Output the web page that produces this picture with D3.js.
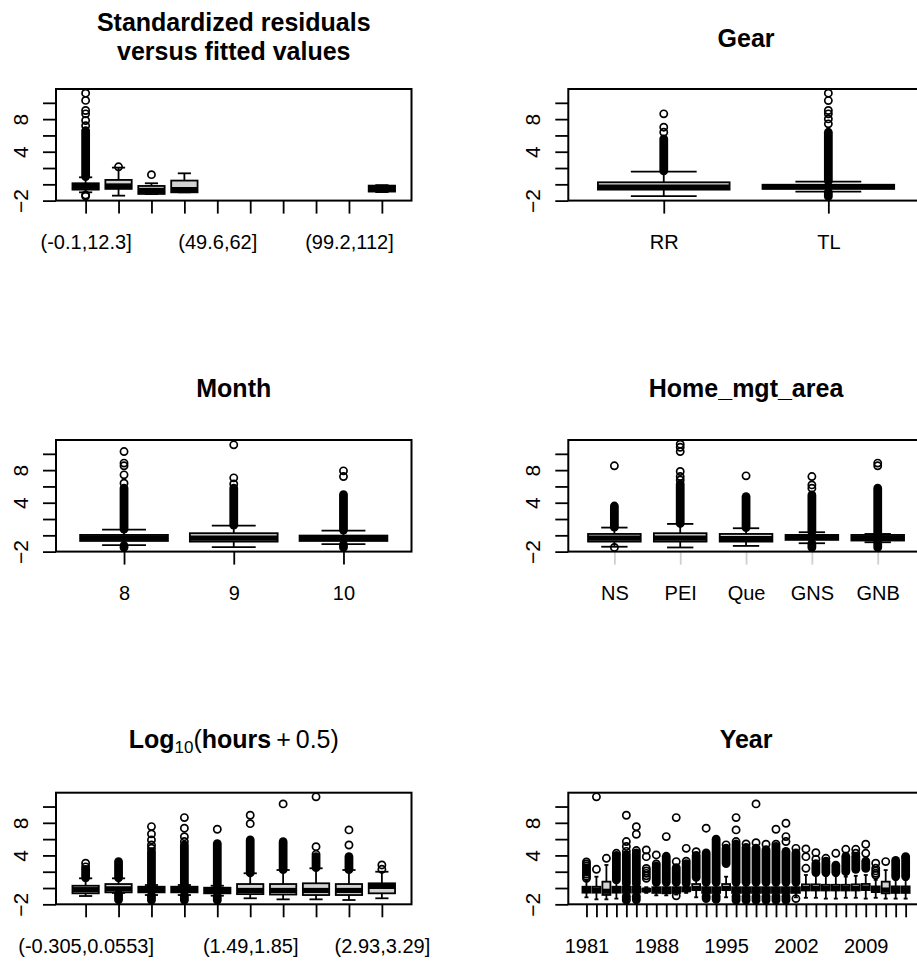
<!DOCTYPE html>
<html>
<head>
<meta charset="utf-8">
<script src="https://cdn.jsdelivr.net/npm/d3@7"></script>
<style>
  body { margin: 0; background: #fff; }
  svg { display: block; font-family: "Liberation Sans", Arial, sans-serif; }
</style>
</head>
<body>
<svg width="917" height="962"></svg>
<script>
// residual axis, shared by all six panels
const yTicks = [-2, 0, 2, 4, 6, 8, 10]
const yRange = [-1.997, 11.697]

// box stats are [lower whisker, q1, median, q3, upper whisker]
// run = stretches where outliers pile up into a solid column, out = single outliers
const fittedBins = ['(-0.1,12.3]', '(12.3,24.7]', '(24.7,37.2]', '(37.2,49.6]', '(49.6,62]',
  '(62,74.4]', '(74.4,86.8]', '(86.8,99.2]', '(99.2,112]', '(112,124]']
const fittedBox = [[-0.98, -0.65, -0.25, 0.13, 0.86], [-1.39, -0.56, -0.2, 0.54, 2.05],
  [-1.2, -1.18, -0.75, -0.2, 0.13], [-0.98, -0.98, -0.65, 0.46, 1.35],
  null, null, null, null, null, [-0.95, -0.89, -0.5, -0.16, -0.1]]
const fittedRun = [[[0.95, 6.6]], [], [], [], [], [], [], [], [], []]
const fittedOut = [[-1.3, -1.45, 7.2, 7.83, 8.65, 9.06, 10.3, 11.19], [2.15], [1.19], [], [], [], [], [], [], []]

const gearCats = ['RR', 'TL']
const gearBox = [[-1.45, -0.65, -0.35, 0.25, 1.56], [-0.89, -0.56, -0.3, -0.05, 0.33]]
const gearRun = [[[1.65, 5.58]], [[0.4, 6.39], [-1.49, -0.95]]]
const gearOut = [[6.39, 7.01, 8.65], [7.42, 8.03, 8.65, 9.06, 10.28, 11.19]]

const monthCats = ['8', '9', '10']
const monthBox = [[-1.21, -0.69, -0.3, 0.05, 0.7], [-1.45, -0.77, -0.35, 0.26, 1.19],
  [-1.09, -0.69, -0.35, -0.03, 0.58]]
const monthRun = [[[0.75, 5.8], [-1.49, -1.25]], [[1.25, 5.8]], [[0.65, 5.0], [-1.49, -1.15]]]
const monthOut = [[6.4, 7.42, 8.53, 8.86, 10.28], [6.3, 7.05, 11.1], [7.21, 7.91]]

const areaCats = ['NS', 'PEI', 'Que', 'GNS', 'GNB']
const areaBox = [[-1.4, -0.77, -0.35, 0.17, 0.95], [-1.49, -0.77, -0.35, 0.26, 1.4],
  [-1.3, -0.77, -0.4, 0.17, 0.87], [-0.97, -0.56, -0.25, 0.05, 0.38],
  [-0.85, -0.64, -0.3, 0.05, 0.17]]
const areaRun = [[[1.0, 3.6]], [[1.45, 6.3]], [[0.95, 4.76]], [[0.45, 4.96], [-1.49, -1.0]],
  [[0.25, 5.78], [-1.49, -0.9]]]
const areaOut = [[-1.49, 8.53], [6.8, 7.21, 7.83, 10.28, 10.8, 11.19], [7.3], [5.79, 6.19, 7.21], [8.53, 8.86]]

const hourBins = ['(-0.305,0.0553]', '(0.0553,0.414]', '(0.414,0.773]', '(0.773,1.13]', '(1.13,1.49]',
  '(1.49,1.85]', '(1.85,2.21]', '(2.21,2.57]', '(2.57,2.93]', '(2.93,3.29]']
const hourBox = [[-0.98, -0.65, -0.2, 0.28, 1.19], [-0.6, -0.53, -0.1, 0.49, 1.19],
  [-0.86, -0.53, -0.2, 0.16, 0.37], [-0.86, -0.53, -0.2, 0.16, 0.37],
  [-0.94, -0.65, -0.3, 0.04, 0.28], [-1.26, -0.75, -0.3, 0.49, 1.81],
  [-1.39, -0.8, -0.3, 0.49, 2.21], [-1.39, -0.86, -0.3, 0.58, 2.42],
  [-1.47, -0.86, -0.3, 0.49, 2.21], [-1.26, -0.65, 0.2, 0.58, 2.0]]
const hourRun = [[[1.25, 2.3]], [[1.25, 3.24], [-1.45, -0.75]], [[0.4, 4.47], [-1.49, -0.9]],
  [[0.4, 5.28], [-1.49, -0.9]], [[0.33, 5.45], [-1.49, -1.0]], [[1.85, 5.9]], [[2.25, 5.69]],
  [[2.5, 3.85]], [[2.25, 3.85]], []]
const hourOut = [[2.6, 3.04], [], [4.88, 5.29, 5.9, 6.64, 7.54], [5.7, 6.3, 7.34, 8.64], [7.21],
  [7.9, 8.93], [10.32], [4.14, 5.08, 11.19], [5.28, 7.13], [2.3, 2.83]]

const years = ['1981', '1982', '1983', '1984', '1985', '1986', '1987', '1988', '1989', '1990',
  '1991', '1992', '1993', '1994', '1995', '1996', '1997', '1998', '1999', '2000', '2001',
  '2002', '2003', '2004', '2005', '2006', '2007', '2008', '2009', '2010', '2011', '2012', '2013']
const yearBox = [
  [-1.14, -0.57, -0.2, 0.16, 0.99], [-1.39, -0.57, -0.25, 0.16, 1.39], [-1.39, -0.85, -0.4, 0.78, 2.83],
  [-1.3, -0.57, -0.2, 0.16, 0.9], [-0.9, -0.57, -0.2, 0.16, 0.5], [-0.9, -0.57, -0.2, 0.16, 0.5],
  [-0.6, -0.4, -0.25, -0.1, 0.1], [-0.9, -0.6, -0.25, 0.1, 0.6], [-0.9, -0.65, -0.3, 0.1, 0.6],
  [-0.8, -0.6, -0.3, 0.1, 0.6], [-0.6, -0.4, -0.2, 0.1, 0.5], [-1.14, -0.24, -0.05, 0.49, 0.99],
  [-0.9, -0.6, -0.25, 0.1, 0.6], [-0.9, -0.6, -0.25, 0.1, 0.6], [-1.14, -0.24, -0.05, 0.49, 1.39],
  [-0.9, -0.6, -0.25, 0.1, 0.6], [-0.9, -0.6, -0.25, 0.1, 0.6], [-0.9, -0.6, -0.25, 0.1, 0.6],
  [-0.9, -0.6, -0.25, 0.1, 0.6], [-0.9, -0.6, -0.25, 0.1, 0.6], [-0.9, -0.6, -0.25, 0.1, 0.6],
  [-1.14, -0.6, -0.25, 0.1, 0.6], [-1.2, -0.3, -0.05, 0.45, 1.6], [-1.2, -0.3, -0.05, 0.45, 1.6],
  [-1.3, -0.3, -0.05, 0.4, 1.5], [-1.3, -0.3, -0.05, 0.4, 1.5], [-1.2, -0.3, -0.05, 0.4, 1.4],
  [-1.2, -0.3, -0.05, 0.45, 1.5], [-1.3, -0.25, 0.0, 0.5, 1.6], [-1.2, -0.5, -0.15, 0.2, 1.0],
  [-1.3, -0.65, -0.25, 0.78, 2.2], [-1.3, -0.6, -0.2, 0.2, 1.0], [-1.3, -0.6, -0.2, 0.2, 1.0]]
const yearRun = [
  [], [], [], [[1.0, 4.0]], [[0.55, 4.1], [-1.49, -1.0]], [[0.55, 4.3], [-1.45, -1.0]], [],
  [[0.7, 2.7]], [[0.7, 3.9]], [[0.7, 2.5]], [[0.6, 3.0]], [[1.3, 4.0]], [[0.7, 4.3], [-1.3, -1.0]],
  [[0.7, 6.0], [-1.4, -1.0]], [[3.0, 4.9]], [[0.7, 5.4], [-1.49, -1.0]], [[0.7, 5.0], [-1.49, -1.0]],
  [[0.7, 4.9], [-1.49, -1.0]], [[0.7, 4.7], [-1.49, -1.0]], [[0.7, 5.1], [-1.49, -1.0]],
  [[0.7, 4.5], [-1.49, -1.0]], [[0.7, 4.3]], [], [[1.9, 3.0]], [[1.9, 3.3]], [[1.9, 2.8]],
  [[2.0, 3.9]], [[2.3, 3.9]], [[2.4, 3.3]], [], [], [[1.4, 3.4]], [[1.4, 3.7]]]
const yearOut = [
  [1.2, 1.45, 1.7, 1.95, 2.2, 2.45, 2.7, 2.95, 3.2], [2.3, 11.19], [3.65], [4.26], [4.5, 5.1, 5.7, 8.93],
  [4.6, 6.6, 7.53], [1.2, 1.5, 1.8, 2.1, 2.4, 3.85, 4.67], [2.95, 4.06], [6.31], [-0.95, 3.24, 8.64],
  [3.3, 4.87], [4.46], [7.34], [], [5.3], [5.7, 7.13, 8.64], [5.4], [5.57, 10.32], [5.37], [5.37, 7.21],
  [5.7, 6.31, 7.95], [-1.3, 4.87], [2.42, 3.85, 4.8], [3.53, 4.34], [3.65], [4.26], [4.75], [4.26, 4.75],
  [4.26, 5.37], [1.6, 1.81, 2.1, 2.42, 3.04], [3.24], [], [3.85]]

const W = 355.5
const H = 111.6
const BOX_FILL = '#d3d3d3'

const panels = [
  {title: ['Standardized residuals', 'versus fitted values'], cats: fittedBins, box: fittedBox, run: fittedRun, out: fittedOut, left: 56, top: 89, titleY: [30.5, 59.5]},
  {title: ['Gear'], cats: gearCats, box: gearBox, run: gearRun, out: gearOut, left: 568.3, top: 89, titleY: [46.5]},
  {title: ['Month'], cats: monthCats, box: monthBox, run: monthRun, out: monthOut, left: 56, top: 440, titleY: [396.7]},
  {title: ['Home_mgt_area'], cats: areaCats, box: areaBox, run: areaRun, out: areaOut, left: 568.3, top: 440, titleY: [396.7], tickColor: '#cfcfcf'},
  {title: null, cats: hourBins, box: hourBox, run: hourRun, out: hourOut, left: 56, top: 792.7, titleY: [747.5]},
  {title: ['Year'], cats: years, box: yearBox, run: yearRun, out: yearOut, left: 568.3, top: 792.7, titleY: [748]}
]

const svg = d3.select('svg')

// R skips axis labels closer than about one "m" to the previous one
const probe = svg.append('text').attr('font-size', 20).text('m')
const mWidth = probe.node().getComputedTextLength()
probe.remove()

function thinLabels(texts, pos) {
  let last = -Infinity
  texts.each(function(d) {
    const w = this.getComputedTextLength()
    const c = pos(d)
    if (c - w / 2 - last >= 1.14 * mWidth) {
      last = c + w / 2
    } else {
      d3.select(this).remove()
    }
  })
}

function drawPanel(p) {
  const n = p.cats.length
  const x = d3.scalePoint()
    .domain(p.cats)
    .range([p.left, p.left + W])
    .padding(0.5 + 0.04 * n)
  const y = d3.scaleLinear()
    .domain(yRange)
    .range([p.top + H, p.top])

  const g = svg.append('g')
  const bw = x.step() * 0.8
  const R = 3.6

  const items = p.cats.map((c, i) => ({c: c, b: p.box[i], run: p.run[i], out: p.out[i]}))
    .filter(d => d.b)

  const bx = g.selectAll('.bx')
    .data(items)
    .join('g')
      .attr('class', 'bx')
      .attr('transform', d => `translate(${x(d.c)},0)`)

  bx.append('line')
    .attr('y1', d => y(d.b[4])).attr('y2', d => y(d.b[3]))
  bx.append('line')
    .attr('y1', d => y(d.b[0])).attr('y2', d => y(d.b[1]))
  bx.append('line')
    .attr('x1', -bw / 4).attr('x2', bw / 4)
    .attr('y1', d => y(d.b[4])).attr('y2', d => y(d.b[4]))
  bx.append('line')
    .attr('x1', -bw / 4).attr('x2', bw / 4)
    .attr('y1', d => y(d.b[0])).attr('y2', d => y(d.b[0]))
  bx.selectAll('line')
    .attr('stroke', '#000')
    .attr('stroke-width', 1.8)

  bx.append('rect')
    .attr('x', -bw / 2)
    .attr('width', bw)
    .attr('y', d => y(d.b[3]))
    .attr('height', d => y(d.b[1]) - y(d.b[3]))
    .attr('fill', BOX_FILL)
    .attr('stroke', '#000')
    .attr('stroke-width', 1.8)

  bx.append('line')
    .attr('x1', -bw / 2).attr('x2', bw / 2)
    .attr('y1', d => y(d.b[2])).attr('y2', d => y(d.b[2]))
    .attr('stroke', '#000')
    .attr('stroke-width', 5.2)

  // solid columns of overlapping outlier rings
  bx.selectAll('.run')
    .data(d => d.run)
    .join('rect')
      .attr('class', 'run')
      .attr('x', -R - 0.8)
      .attr('width', 2 * R + 1.6)
      .attr('y', d => y(d[1]) - R - 0.8)
      .attr('height', d => y(d[0]) - y(d[1]) + 2 * R + 1.6)
      .attr('rx', R + 0.8)
      .attr('fill', '#000')

  bx.selectAll('circle')
    .data(d => d.out)
    .join('circle')
      .attr('cy', d => y(d))
      .attr('r', R)
      .attr('fill', 'none')
      .attr('stroke', '#000')
      .attr('stroke-width', 1.7)

  // x axis
  const ax = g.append('g')
    .attr('transform', `translate(0,${p.top + H})`)
    .call(d3.axisBottom(x).tickSize(13).tickPadding(21.3))
    .attr('font-size', 20)
    .attr('font-family', null)
  ax.select('.domain').remove()
  ax.selectAll('line')
    .attr('stroke', p.tickColor || '#000')
    .attr('stroke-width', 1.8)
  ax.selectAll('text').attr('fill', '#000')
  thinLabels(ax.selectAll('text'), d => x(d))

  // y axis, labels parallel to the axis
  const ay = g.append('g')
    .attr('transform', `translate(${p.left},0)`)
    .call(d3.axisLeft(y).tickValues(yTicks).tickSize(13))
    .attr('font-size', 21)
    .attr('font-family', null)
  ay.select('.domain').remove()
  ay.selectAll('line').attr('stroke', '#000').attr('stroke-width', 1.8)
  ay.selectAll('text')
    .attr('x', 0)
    .attr('dy', null)
    .attr('fill', '#000')
    .attr('text-anchor', 'middle')
    .attr('transform', 'translate(-28.5,0) rotate(-90)')
  thinLabels(ay.selectAll('text'), d => -y(d))

  g.append('rect')
    .attr('x', p.left)
    .attr('y', p.top)
    .attr('width', W)
    .attr('height', H)
    .attr('fill', 'none')
    .attr('stroke', '#000')
    .attr('stroke-width', 2)

  const cx = p.left + W / 2
  if (p.title) {
    p.title.forEach((t, i) => {
      g.append('text')
        .attr('x', cx)
        .attr('y', p.titleY[i])
        .attr('text-anchor', 'middle')
        .attr('font-size', 25)
        .attr('font-weight', 'bold')
        .text(t)
    })
  } else {
    const t = g.append('text')
      .attr('x', cx)
      .attr('y', p.titleY[0])
      .attr('text-anchor', 'middle')
      .attr('font-size', 25)
    t.append('tspan').attr('font-weight', 'bold').text('Log')
    t.append('tspan').attr('font-size', 17).attr('dy', 5).text('10')
    t.append('tspan').attr('dy', -5).text('(')
    t.append('tspan').attr('font-weight', 'bold').text('hours')
    t.append('tspan').text('\u2009+\u20090.5)')
  }
}

panels.forEach(drawPanel)
</script>
</body>
</html>
